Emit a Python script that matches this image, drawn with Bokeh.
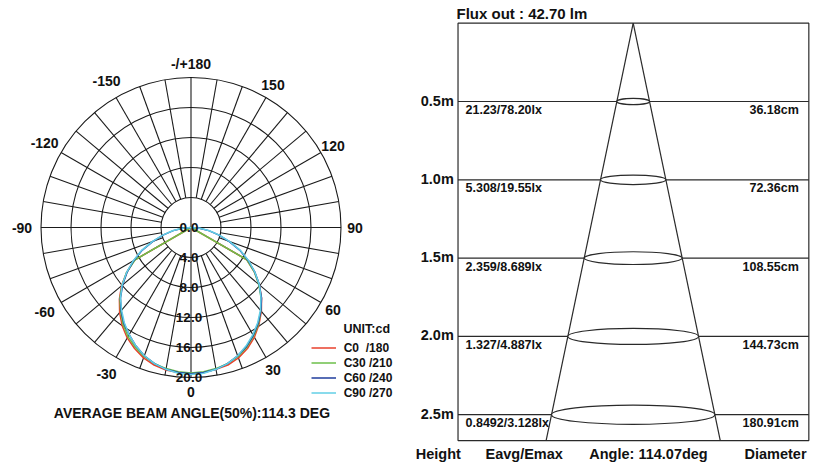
import math
from bokeh.plotting import figure
from bokeh.models import ColumnDataSource, Range1d, Legend, LegendItem, Label
from bokeh.layouts import row
from bokeh.embed import file_html
from bokeh.resources import INLINE
from bokeh.core.properties import value

FONT = "Liberation Sans"

# ---------------- data: polar intensity curves (cd) ----------------
GAMMA = [0, 5, 10, 15, 20, 25, 30, 35, 40, 45, 50, 55, 60, 65, 70, 75, 80, 85, 90]
C0 = [19.5, 19.4, 19.2, 19.0, 18.5, 17.8, 16.9, 15.8, 14.6, 13.3, 11.9, 10.3, 8.6, 0, 0, 0, 0, 0, 0]
C180 = [19.5, 19.4, 19.3, 19.0, 18.5, 17.8, 17.0, 16.0, 14.8, 13.5, 12.1, 10.5, 8.7, 0, 0, 0, 0, 0, 0]
C30 = [19.4, 19.3, 19.1, 18.8, 18.3, 17.6, 16.7, 15.7, 14.5, 13.2, 11.8, 10.3, 8.6, 0, 0, 0, 0, 0, 0]
C210 = [19.4, 19.3, 19.1, 18.8, 18.3, 17.6, 16.8, 15.8, 14.6, 13.4, 12.0, 10.5, 8.6, 0, 0, 0, 0, 0, 0]
C60 = [19.5, 19.4, 19.2, 18.8, 18.2, 17.5, 16.6, 15.6, 14.5, 13.3, 11.9, 10.4, 8.8, 7.2, 5.4, 3.8, 2.4, 1.1, 0]
C240 = [19.5, 19.4, 19.2, 18.8, 18.2, 17.4, 16.5, 15.6, 14.5, 13.3, 11.9, 10.4, 8.8, 7.2, 5.4, 3.8, 2.4, 1.1, 0]
C90 = [19.6, 19.5, 19.2, 18.8, 18.2, 17.4, 16.5, 15.5, 14.4, 13.2, 11.9, 10.4, 8.9, 7.3, 5.5, 3.9, 2.5, 1.2, 0]
C270 = [19.6, 19.5, 19.2, 18.8, 18.2, 17.4, 16.5, 15.5, 14.4, 13.3, 12.0, 10.5, 8.9, 7.3, 5.5, 3.9, 2.5, 1.2, 0]

LEGEND_LABELS = ["C0  /180", "C30 /210", "C60 /240", "C90 /270"]
CURVE_COLORS = ["#e8402c", "#6cbf4a", "#1f3c9c", "#62cfe6"]

RING_VALUES = [0.0, 4.0, 8.0, 12.0, 16.0, 20.0]
RING_LABELS = ["0.0", "4.0", "8.0", "12.0", "16.0", "20.0"]
ANGLE_TICKS = [180, 150, 120, 90, 60, 30, 0, -30, -60, -90, -120, -150]
ANGLE_LABELS = ["-/+180", "150", "120", "90", "60", "30", "0", "-30", "-60", "-90", "-120", "-150"]
BEAM_TITLE = "AVERAGE BEAM ANGLE(50%):114.3 DEG"
UNIT_TEXT = "UNIT:cd"

# ---------------- data: cone diagram ----------------
HEIGHTS = [0.5, 1.0, 1.5, 2.0, 2.5]
HEIGHT_LABELS = ["0.5m", "1.0m", "1.5m", "2.0m", "2.5m"]
EAVG_EMAX = ["21.23/78.20lx", "5.308/19.55lx", "2.359/8.689lx", "1.327/4.887lx", "0.8492/3.128lx"]
DIAMETERS_CM = [36.18, 72.36, 108.55, 144.73, 180.91]
DIAM_LABELS = ["36.18cm", "72.36cm", "108.55cm", "144.73cm", "180.91cm"]
FLUX_TITLE = "Flux out : 42.70 lm"
FOOTER_LABELS = ["Height", "Eavg/Emax", "Angle: 114.07deg", "Diameter"]

# ================= left: polar diagram =================
H = 463
WL = 410
SL = 7.5            # px per cd
CXL, CYL = 190.5, 227.0
p1 = figure(width=WL, height=H,
            x_range=Range1d(-CXL / SL, (WL - CXL) / SL),
            y_range=Range1d(-(H - CYL) / SL, CYL / SL),
            x_axis_type=None, y_axis_type=None,
            toolbar_location=None, output_backend="svg",
            min_border=0, outline_line_color=None)
p1.background_fill_color = "white"
p1.border_fill_color = "white"

rmax = RING_VALUES[-1]
rin = RING_VALUES[1]
# rings
p1.circle(x=[0] * (len(RING_VALUES) - 1), y=[0] * (len(RING_VALUES) - 1),
          radius=RING_VALUES[1:], fill_color=None, line_color="#1a1a1a", line_width=1.1)
# radial lines
x0s, y0s, x1s, y1s = [], [], [], []
for a in range(0, 360, 10):
    t = math.radians(a)
    r0 = 0 if a % 90 == 0 else rin
    x0s.append(r0 * math.sin(t)); y0s.append(-r0 * math.cos(t))
    x1s.append(rmax * math.sin(t)); y1s.append(-rmax * math.cos(t))
p1.segment(x0=x0s, y0=y0s, x1=x1s, y1=y1s, line_color="#1a1a1a", line_width=1.1)

# curves
pairs = [(C0, C180), (C30, C210), (C60, C240), (C90, C270)]
items = []
for (right_v, left_v), col, lab in zip(pairs, CURVE_COLORS, LEGEND_LABELS):
    xs, ys = [], []
    for g, v in zip(reversed(GAMMA), reversed(left_v)):
        t = math.radians(g)
        xs.append(-v * math.sin(t)); ys.append(-v * math.cos(t))
    for g, v in zip(GAMMA[1:], right_v[1:]):
        t = math.radians(g)
        xs.append(v * math.sin(t)); ys.append(-v * math.cos(t))
    r = p1.line(xs, ys, line_color=col, line_width=1.5)
    items.append(LegendItem(label=lab, renderers=[r]))

# ring labels
ring_src = ColumnDataSource(dict(x=[0] * len(RING_VALUES), y=[-v for v in RING_VALUES], t=RING_LABELS))
p1.text(x="x", y="y", text="t", source=ring_src, text_align="center", text_baseline="alphabetic",
        x_offset=-2, text_font=value(FONT), text_font_style="bold", text_font_size="13.5px",
        text_color="#111")

# angle labels
ax, ay = [], []
for a, lab in zip(ANGLE_TICKS, ANGLE_LABELS):
    rr = (169 if (lab.startswith("-") and a != 180) else 164) / SL
    t = math.radians(a)
    ax.append(rr * math.sin(t)); ay.append(-rr * math.cos(t))
ang_src = ColumnDataSource(dict(x=ax, y=ay, t=ANGLE_LABELS))
p1.text(x="x", y="y", text="t", source=ang_src, text_align="center", text_baseline="middle",
        text_font=value(FONT), text_font_style="bold", text_font_size="14px", text_color="#111")

p1.add_layout(Label(x=191.7, y=H - 412.7, x_units="screen", y_units="screen", text=BEAM_TITLE,
                    text_align="center", text_baseline="middle", text_font=FONT,
                    text_font_style="bold", text_font_size="14px", text_color="#111"))
p1.add_layout(Label(x=343, y=H - 328, x_units="screen", y_units="screen", text=UNIT_TEXT,
                    text_align="left", text_baseline="middle", text_font=FONT,
                    text_font_style="bold", text_font_size="12.5px", text_color="#111"))

legend = Legend(items=items, location=(310.7, H - 400.2), padding=0, margin=0, spacing=0,
                glyph_width=25, glyph_height=15, label_height=15, label_standoff=8,
                label_text_font=FONT, label_text_font_style="bold", label_text_font_size="12px",
                label_text_color="#111", border_line_color=None, background_fill_alpha=0)
p1.add_layout(legend)

# ================= right: cone diagram =================
WR = 411
SXR, SYR = 90.3, 156.6     # px per metre
AXR, AYR = 222.7, 22.7     # apex position in px within this figure
p2 = figure(width=WR, height=H,
            x_range=Range1d(-AXR / SXR, (WR - AXR) / SXR),
            y_range=Range1d((H - AYR) / SYR, -AYR / SYR),
            x_axis_type=None, y_axis_type=None,
            toolbar_location=None, output_backend="svg",
            min_border=0, outline_line_color=None)
p2.background_fill_color = "white"
p2.border_fill_color = "white"

BOX_L, BOX_R, BOX_DEPTH = -1.94, 1.945, 2.665
LC = "#2a2a2a"
p2.quad(left=[BOX_L], right=[BOX_R], top=[0], bottom=[BOX_DEPTH], fill_color=None,
        line_color=LC, line_width=1.2)
p2.segment(x0=[BOX_L] * len(HEIGHTS), x1=[BOX_R] * len(HEIGHTS), y0=HEIGHTS, y1=HEIGHTS,
           line_color=LC, line_width=1.2)
k = DIAMETERS_CM[-1] / 100 / 2 / HEIGHTS[-1]
p2.segment(x0=[0, 0], y0=[0, 0], x1=[-k * BOX_DEPTH, k * BOX_DEPTH], y1=[BOX_DEPTH, BOX_DEPTH],
           line_color=LC, line_width=1.2)
p2.ellipse(x=[0] * len(HEIGHTS), y=HEIGHTS, width=[d / 100 for d in DIAMETERS_CM],
           height=[(3 + 6.5 * h) / SYR for h in HEIGHTS], fill_color="white",
           line_color=LC, line_width=1.2)

hsrc = ColumnDataSource(dict(x=[(453.3 - 632.7) / SXR] * len(HEIGHTS), y=HEIGHTS, t=HEIGHT_LABELS))
p2.text(x="x", y="y", text="t", source=hsrc, text_align="right", text_baseline="middle", y_offset=-1,
        text_font=value(FONT), text_font_style="bold", text_font_size="14.5px", text_color="#111")
esrc = ColumnDataSource(dict(x=[(465 - 632.7) / SXR] * len(HEIGHTS), y=HEIGHTS, t=EAVG_EMAX))
p2.text(x="x", y="y", text="t", source=esrc, text_align="left", text_baseline="middle", y_offset=8.5,
        text_font=value(FONT), text_font_style="bold", text_font_size="12.5px", text_color="#111")
dsrc = ColumnDataSource(dict(x=[(798.3 - 632.7) / SXR] * len(HEIGHTS), y=HEIGHTS, t=DIAM_LABELS))
p2.text(x="x", y="y", text="t", source=dsrc, text_align="right", text_baseline="middle", y_offset=8.5,
        text_font=value(FONT), text_font_style="bold", text_font_size="12.5px", text_color="#111")

p2.text(x=[(456 - 632.7) / SXR], y=[0], text=[FLUX_TITLE], text_align="left", text_baseline="middle",
        y_offset=-10, text_font=value(FONT), text_font_style="bold", text_font_size="15px",
        text_color="#111")

FOOTER_X = [(x - 632.7) / SXR for x in (437.8, 523.7, 648.0, 775.0)]
fsrc = ColumnDataSource(dict(x=FOOTER_X, y=[BOX_DEPTH] * 4, t=FOOTER_LABELS))
p2.text(x="x", y="y", text="t", source=fsrc, text_align="center", text_baseline="middle",
        y_offset=13.3, text_font=value(FONT), text_font_style="bold", text_font_size="14.5px",
        text_color="#111")

layout = row(p1, p2)
open("out.html", "w").write(file_html(layout, INLINE))
